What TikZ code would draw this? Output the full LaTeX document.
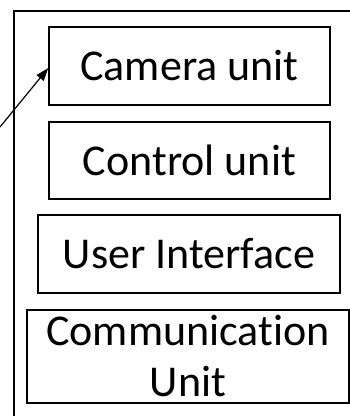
\documentclass[tikz,border=0pt]{standalone}
\usepackage{fontspec}
\setmainfont{Carlito}[Ligatures={NoCommon,NoRequired,NoContextual}]
\usepackage{tikz}
\usetikzlibrary{arrows.meta, positioning}

\begin{document}
\begin{tikzpicture}[x=1pt, y=-1pt,
  unitbox/.style={draw, line width=1.4pt, inner sep=0pt, align=center,
    font=\fontsize{44}{51}\selectfont}]
  \useasboundingbox (0,0) rectangle (350,416);
  % Cadre exterieur (coupe a droite et en bas)
  \draw[line width=1.5pt] (14,416) -- (14,11) -- (352,11);
  % Blocs
  \node[unitbox, minimum width=281, minimum height=78] (cam) at (189.5,66) {Camera unit};
  \node[unitbox, minimum width=281, minimum height=77] (ctrl) at (189.5,160.5) {Control unit};
  \node[unitbox, minimum width=302, minimum height=78] (ui) at (189,254) {User Interface};
  \node[unitbox, minimum width=322, minimum height=93] (comm) at (188,356.5) {Communication\\Unit};
  % Fleche entrante
  \coordinate (src) at (0,127);
  \draw[line width=1.2pt, -{Triangle[length=13pt, width=9pt]}] (src) -- ([yshift=-2pt]cam.west);
\end{tikzpicture}
\end{document}
